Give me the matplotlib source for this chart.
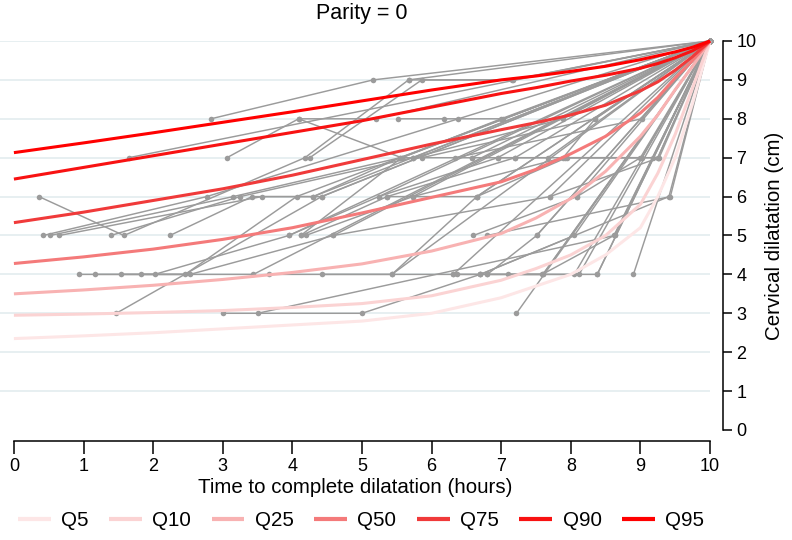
import matplotlib
matplotlib.use('Agg')
import matplotlib.pyplot as plt

plt.rcParams['font.family'] = ['Liberation Sans', 'DejaVu Sans']

# individual women: time to complete dilatation (h) and dilatation (cm) at each exam
traj_time = [
    [2.83, 5.16, 10], [1.65, 10], [3.06, 4.09, 5.57, 10], [0.36, 1.58, 4.18, 5.67, 10],
    [4.25, 5.86, 7.17, 10], [5.52, 6.18, 6.38, 7.03, 10], [4.09, 5.2, 10], [5.73, 7.89, 10],
    [5.86, 8.35, 10], [6.34, 9.02, 10], [6.58, 7.2, 10], [6.95, 7.67, 10],
    [7.92, 9.02, 10], [9.25, 10], [0.42, 2.77, 10], [0.52, 3.15, 5.55, 10],
    [0.65, 3.56, 4.3, 10], [1.39, 3.25, 5.73, 10], [2.24, 3.42, 4.42, 10], [3.95, 5.24, 10],
    [4.13, 5.36, 6.65, 10], [4.19, 5.73, 10], [4.59, 7.7, 10], [6.6, 8.09, 10],
    [6.8, 9.43, 10], [7.51, 10], [8.63, 10], [0.93, 2.02, 3.95, 10],
    [1.17, 2.46, 4.06, 10], [1.54, 2.53, 4.59, 10], [1.83, 3.44, 10], [3.67, 5.43, 10],
    [4.42, 6.31, 10], [5.43, 6.65, 10], [6.31, 6.7, 8.05, 10], [6.36, 7.6, 10],
    [6.79, 8.12, 10], [7.1, 8.38, 10], [8.05, 10], [8.9, 10],
    [1.47, 4.42, 10], [3.0, 5.0, 6.7, 7.6, 10], [3.5, 8.63, 10], [7.22, 10],
    [5.24, 6.95, 10], [4.3, 5.55, 6.58, 10], [5.36, 7.2, 9.25, 10], [6.65, 7.94, 9.18, 10],
    [7.7, 9.27, 10], [8.09, 9.0, 10], [4.12, 5.57, 7.0, 10], [5.73, 7.89, 8.35, 10],
    [6.8, 7.51, 10], [6.7, 9.41, 10], [7.59, 8.62, 10], [8.38, 10],
    [5.67, 7.15, 10],
]
traj_dil = [
    [8, 9, 10], [7, 10], [7, 8, 7, 10], [6, 5, 7, 9, 10],
    [7, 9, 9, 10], [8, 8, 8, 8, 10], [8, 8, 10], [7, 8, 10],
    [7, 8, 10], [7, 8, 10], [7, 7, 10], [7, 7, 10],
    [7, 7, 10], [7, 10], [5, 6, 10], [5, 6, 7, 10],
    [5, 6, 6, 10], [5, 6, 7, 10], [5, 6, 6, 10], [5, 6, 10],
    [5, 6, 6, 10], [5, 6, 10], [5, 6, 10], [5, 6, 10],
    [5, 6, 10], [5, 10], [5, 10], [4, 4, 5, 10],
    [4, 4, 6, 10], [4, 4, 5, 10], [4, 4, 10], [4, 4, 10],
    [4, 4, 10], [4, 6, 10], [4, 4, 5, 10], [4, 4, 10],
    [4, 4, 10], [4, 4, 10], [4, 10], [4, 10],
    [3, 6, 10], [3, 3, 4, 4, 10], [3, 5, 10], [3, 10],
    [6, 7, 10], [6, 7, 7, 10], [6, 7, 7, 10], [6, 7, 7, 10],
    [6, 7, 10], [6, 7, 10], [5, 7, 8, 10], [6, 7, 8, 10],
    [4, 5, 10], [4, 6, 10], [4, 5, 10], [4, 10],
    [9, 9, 10],
]

# fitted quantile curves, read at these times
q_time = [0, 1, 2, 3, 4, 5, 6, 7, 7.5, 8, 8.5, 9, 9.25, 9.5, 9.75, 10]
q5 = [2.35, 2.42, 2.5, 2.6, 2.7, 2.8, 3.0, 3.4, 3.7, 4.0, 4.5, 5.2, 6.0, 7.0, 8.4, 10]
q10 = [2.95, 2.98, 3.02, 3.07, 3.15, 3.25, 3.45, 3.85, 4.15, 4.5, 5.0, 5.8, 6.6, 7.6, 8.8, 10]
q25 = [3.5, 3.6, 3.72, 3.87, 4.05, 4.27, 4.6, 5.05, 5.45, 5.95, 6.65, 7.55, 8.1, 8.75, 9.35, 10]
q50 = [4.28, 4.45, 4.65, 4.9, 5.2, 5.58, 5.98, 6.38, 6.7, 7.1, 7.55, 8.15, 8.55, 9.05, 9.5, 10]
q75 = [5.33, 5.6, 5.9, 6.2, 6.55, 6.95, 7.35, 7.72, 7.9, 8.1, 8.35, 8.72, 8.95, 9.25, 9.6, 10]
q90 = [6.45, 6.75, 7.05, 7.35, 7.65, 7.95, 8.3, 8.65, 8.8, 8.97, 9.12, 9.3, 9.42, 9.57, 9.75, 10]
q95 = [7.13, 7.38, 7.64, 7.91, 8.18, 8.46, 8.74, 9.0, 9.1, 9.22, 9.35, 9.52, 9.62, 9.72, 9.84, 10]
q_names = ['Q5', 'Q10', 'Q25', 'Q50', 'Q75', 'Q90', 'Q95']
q_colors = ['#fde6e6', '#fbd3d3', '#f8b2b2', '#f47a7a', '#f03a3a', '#f81212', '#ff0000']

fig = plt.figure(figsize=(7.92, 5.4), dpi=100)
ax = fig.add_axes([0, 110 / 540, 710 / 792, 389 / 540])
ax.set_xlim(-0.2, 10)
ax.set_ylim(0, 10)

ax.hlines(range(1, 11), -0.2, 10, color='#e5eef0', lw=1.3, zorder=0)

for t, d in zip(traj_time, traj_dil):
    ax.plot(t, d, color='#9b9b9b', lw=1.05, marker='o', ms=4, mew=0,
            clip_on=False, zorder=2)

for qv, name, col in zip([q5, q10, q25, q50, q75, q90, q95], q_names, q_colors):
    ax.plot(q_time, qv, color=col, lw=2.2, label=name, clip_on=False, zorder=3,
            solid_capstyle='butt', solid_joinstyle='round')

for s in ['top', 'left']:
    ax.spines[s].set_visible(False)
ax.spines['right'].set_position(('outward', 9.4))
ax.spines['right'].set_bounds(0, 10)
ax.spines['bottom'].set_position(('outward', 8))
ax.spines['bottom'].set_bounds(0, 10)
for s in ['right', 'bottom']:
    ax.spines[s].set_linewidth(1.1)

ax.yaxis.tick_right()
ax.yaxis.set_label_position('right')
ax.set_xticks(range(0, 11))
ax.set_yticks(range(0, 11))
ax.tick_params(axis='x', length=9, width=1.1, labelsize=13, pad=3)
ax.tick_params(axis='y', length=6.5, width=1.1, labelsize=13, pad=3)
ax.set_xlabel('Time to complete dilatation (hours)', fontsize=14.8, labelpad=2)
ax.set_ylabel('Cervical dilatation (cm)', fontsize=14.8, labelpad=6)

fig.text(362 / 792, 1 - 13 / 540, 'Parity = 0', ha='center', va='center', fontsize=15.5)

fig.legend(*ax.get_legend_handles_labels(), loc='center', ncol=7,
           bbox_to_anchor=(361 / 792, 1 - 521 / 540), frameon=False,
           fontsize=14.8, handlelength=1.6, handletextpad=0.5, columnspacing=1.0,
           borderpad=0)
for line in fig.legends[0].get_lines():
    line.set_linewidth(3)

fig.savefig('out.png', dpi=100)
